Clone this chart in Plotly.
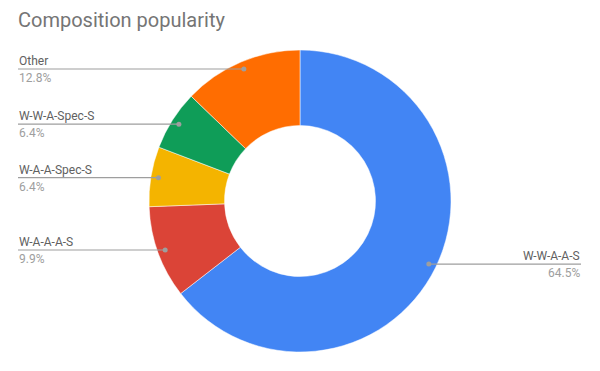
import math
import plotly.graph_objects as go

labels = ["W-W-A-A-S", "W-A-A-A-S", "W-A-A-Spec-S", "W-W-A-Spec-S", "Other"]
values = [64.5, 9.9, 6.4, 6.4, 12.8]
colors = ["#4285F4", "#DB4437", "#F4B400", "#0F9D58", "#FF6D01"]

W, H = 600, 371
cx, cy, R = 300, 201, 151
hole = 0.5
dot_r = 0.95 * R
left_x, right_x = 18, 581

def px_to_paper(x, y):
    return x / W, 1 - y / H

fig = go.Figure()
fig.add_trace(go.Pie(
    labels=labels, values=values, sort=False, direction="clockwise", rotation=0,
    hole=hole, textinfo="none", hoverinfo="label+percent",
    marker=dict(colors=colors, line=dict(color="white", width=0.5)),
    domain=dict(x=[(cx - R) / W, (cx + R) / W], y=[1 - (cy + R) / H, 1 - (cy - R) / H]),
    showlegend=False,
))

total = sum(values)
cum = 0.0
shapes, annotations = [], []
for lab, v in zip(labels, values):
    mid = (cum + v / 2) / total * 2 * math.pi
    cum += v
    dx = cx + dot_r * math.sin(mid)
    dy = cy - dot_r * math.cos(mid)
    right = math.sin(mid) > 0
    ex = right_x if right else left_x
    x0, y0 = px_to_paper(dx, dy)
    x1, _ = px_to_paper(ex, dy)
    shapes.append(dict(type="line", xref="paper", yref="paper", x0=x0, x1=x1, y0=y0, y1=y0,
                       line=dict(color="#9E9E9E", width=1.2)))
    rr = 2.5
    shapes.append(dict(type="circle", xref="paper", yref="paper",
                       x0=(dx - rr) / W, x1=(dx + rr) / W, y0=1 - (dy + rr) / H, y1=1 - (dy - rr) / H,
                       fillcolor="#9E9E9E", line=dict(width=0)))
    anchor = "right" if right else "left"
    annotations.append(dict(xref="paper", yref="paper", x=x1, y=y0, xanchor=anchor, yanchor="bottom",
                            text=lab, showarrow=False, borderpad=0,
                            font=dict(family="Roboto", size=12, color="#616161")))
    annotations.append(dict(xref="paper", yref="paper", x=x1, y=y0 - 1 / H, xanchor=anchor, yanchor="top",
                            text=f"{v / total * 100:.1f}%", showarrow=False, borderpad=0,
                            font=dict(family="Roboto", size=12, color="#9E9E9E")))

fig.update_layout(
    width=W, height=H, margin=dict(l=0, r=0, t=0, b=0),
    paper_bgcolor="white", plot_bgcolor="white",
    title=dict(text="Composition popularity", x=18 / W, xanchor="left", xref="paper",
               y=1 - 20 / H, yanchor="middle", yref="container",
               font=dict(family="Roboto", size=20, color="#757575")),
    shapes=shapes, annotations=annotations,
)
fig.write_html("out.html")
